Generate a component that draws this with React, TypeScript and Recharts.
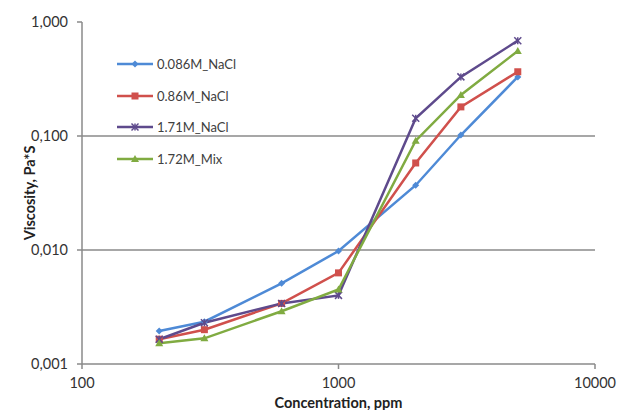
import React from "react";
import {
  LineChart,
  Line,
  XAxis,
  YAxis,
  ReferenceLine,
} from "recharts";

// Concentration (ppm) vs viscosity (Pa*s) for each brine
const CONCENTRATIONS = [200, 300, 600, 1000, 2000, 3000, 5000];
const NACL_0086 = [0.00195, 0.00235, 0.0051, 0.0098, 0.037, 0.102, 0.33];
const NACL_086 = [0.00165, 0.002, 0.0034, 0.0063, 0.058, 0.18, 0.366];
const NACL_171 = [0.00165, 0.0023, 0.0034, 0.004, 0.143, 0.33, 0.686];
const MIX_172 = [0.00152, 0.00168, 0.0029, 0.0045, 0.091, 0.229, 0.557];

const X_TICKS = [100, 1000, 10000];
const Y_TICKS = [0.001, 0.01, 0.1, 1];
const GRID_VALUES = [0.01, 0.1];

const FONT = "Lato, 'Open Sans', sans-serif";
const AXIS_GREY = "#8a8a8a";

type Shape = "diamond" | "square" | "star" | "triangle";

const SERIES: { key: string; name: string; color: string; shape: Shape; values: number[] }[] = [
  { key: "s1", name: "0.086M_NaCl", color: "#4e8ad6", shape: "diamond", values: NACL_0086 },
  { key: "s2", name: "0.86M_NaCl", color: "#d0504c", shape: "square", values: NACL_086 },
  { key: "s3", name: "1.71M_NaCl", color: "#5e4a8c", shape: "star", values: NACL_171 },
  { key: "s4", name: "1.72M_Mix", color: "#80ab41", shape: "triangle", values: MIX_172 },
];

const data = CONCENTRATIONS.map((c, i) => {
  const row: Record<string, number> = { conc: c };
  SERIES.forEach((s) => {
    row[s.key] = s.values[i];
  });
  return row;
});

function Marker({ cx, cy, shape, color }: { cx: number; cy: number; shape: Shape; color: string }) {
  if (cx == null || cy == null) return null;
  const r = 3.5;
  switch (shape) {
    case "diamond":
      return (
        <polygon
          points={`${cx},${cy - r} ${cx + r},${cy} ${cx},${cy + r} ${cx - r},${cy}`}
          fill={color}
        />
      );
    case "square":
      return <rect x={cx - r} y={cy - r} width={r * 2} height={r * 2} fill={color} />;
    case "triangle":
      return (
        <polygon
          points={`${cx},${cy - r - 0.5} ${cx + r + 0.5},${cy + r - 0.5} ${cx - r - 0.5},${cy + r - 0.5}`}
          fill={color}
        />
      );
    case "star":
      return (
        <g stroke={color} strokeWidth={1.5}>
          <line x1={cx - r} y1={cy - r} x2={cx + r} y2={cy + r} />
          <line x1={cx - r} y1={cy + r} x2={cx + r} y2={cy - r} />
          <line x1={cx} y1={cy - r} x2={cx} y2={cy + r} />
        </g>
      );
  }
  return null;
}

const fmtY = (v: number) => v.toFixed(3).replace(".", ",");

// legend sits inside the plot area, upper left
const LegendBox: React.FC = () => (
  <div
    style={{
      position: "absolute",
      left: 116,
      top: 48,
      fontFamily: FONT,
      fontSize: 13,
      color: "#404040",
    }}
  >
    {SERIES.map((s) => (
      <div key={s.key} style={{ display: "flex", alignItems: "center", height: 31.7 }}>
        <svg width={40} height={12} style={{ marginRight: 1 }}>
          <line x1={1} y1={6} x2={37} y2={6} stroke={s.color} strokeWidth={2.5} />
          <Marker cx={19} cy={6} shape={s.shape} color={s.color} />
        </svg>
        <span>{s.name}</span>
      </div>
    ))}
  </div>
);

export default function App() {
  return (
    <div style={{ position: "absolute", left: 0, top: 0, width: 620, height: 410, background: "#fff" }}>
      <LineChart
        width={620}
        height={410}
        data={data}
        margin={{ top: 22, right: 25, bottom: 0, left: 0 }}
      >
        {GRID_VALUES.map((v) => (
          <ReferenceLine key={v} y={v} stroke={AXIS_GREY} strokeWidth={1.5} />
        ))}
        <XAxis
          dataKey="conc"
          type="number"
          scale="log"
          domain={[100, 10000]}
          ticks={X_TICKS}
          allowDataOverflow
          height={46}
          stroke={AXIS_GREY}
          strokeWidth={1.5}
          tickSize={5}
          tickMargin={9}
          tick={{ fill: "#333", fontSize: 14.5, fontFamily: FONT }}
          label={{
            value: "Concentration, ppm",
            position: "insideBottom",
            offset: 2,
            style: { fontFamily: FONT, fontSize: 14.5, fontWeight: 700, fill: "#222" },
          }}
        />
        <YAxis
          type="number"
          scale="log"
          domain={[0.001, 1]}
          ticks={Y_TICKS}
          allowDataOverflow
          width={82}
          stroke={AXIS_GREY}
          strokeWidth={1.5}
          tickSize={5}
          tickMargin={9}
          tickFormatter={fmtY}
          tick={{ fill: "#333", fontSize: 14.5, fontFamily: FONT }}
          label={{
            value: "Viscosity, Pa*S",
            angle: -90,
            position: "center",
            dx: -11,
            style: { fontFamily: FONT, fontSize: 14.5, fontWeight: 700, fill: "#222", textAnchor: "middle" },
          }}
        />
        {SERIES.map((s) => (
          <Line
            key={s.key}
            dataKey={s.key}
            name={s.name}
            type="linear"
            stroke={s.color}
            strokeWidth={2.5}
            isAnimationActive={false}
            dot={(p: any) => (
              <Marker key={`${s.key}-${p.index}`} cx={p.cx} cy={p.cy} shape={s.shape} color={s.color} />
            )}
            activeDot={false}
          />
        ))}
      </LineChart>
      <LegendBox />
    </div>
  );
}
